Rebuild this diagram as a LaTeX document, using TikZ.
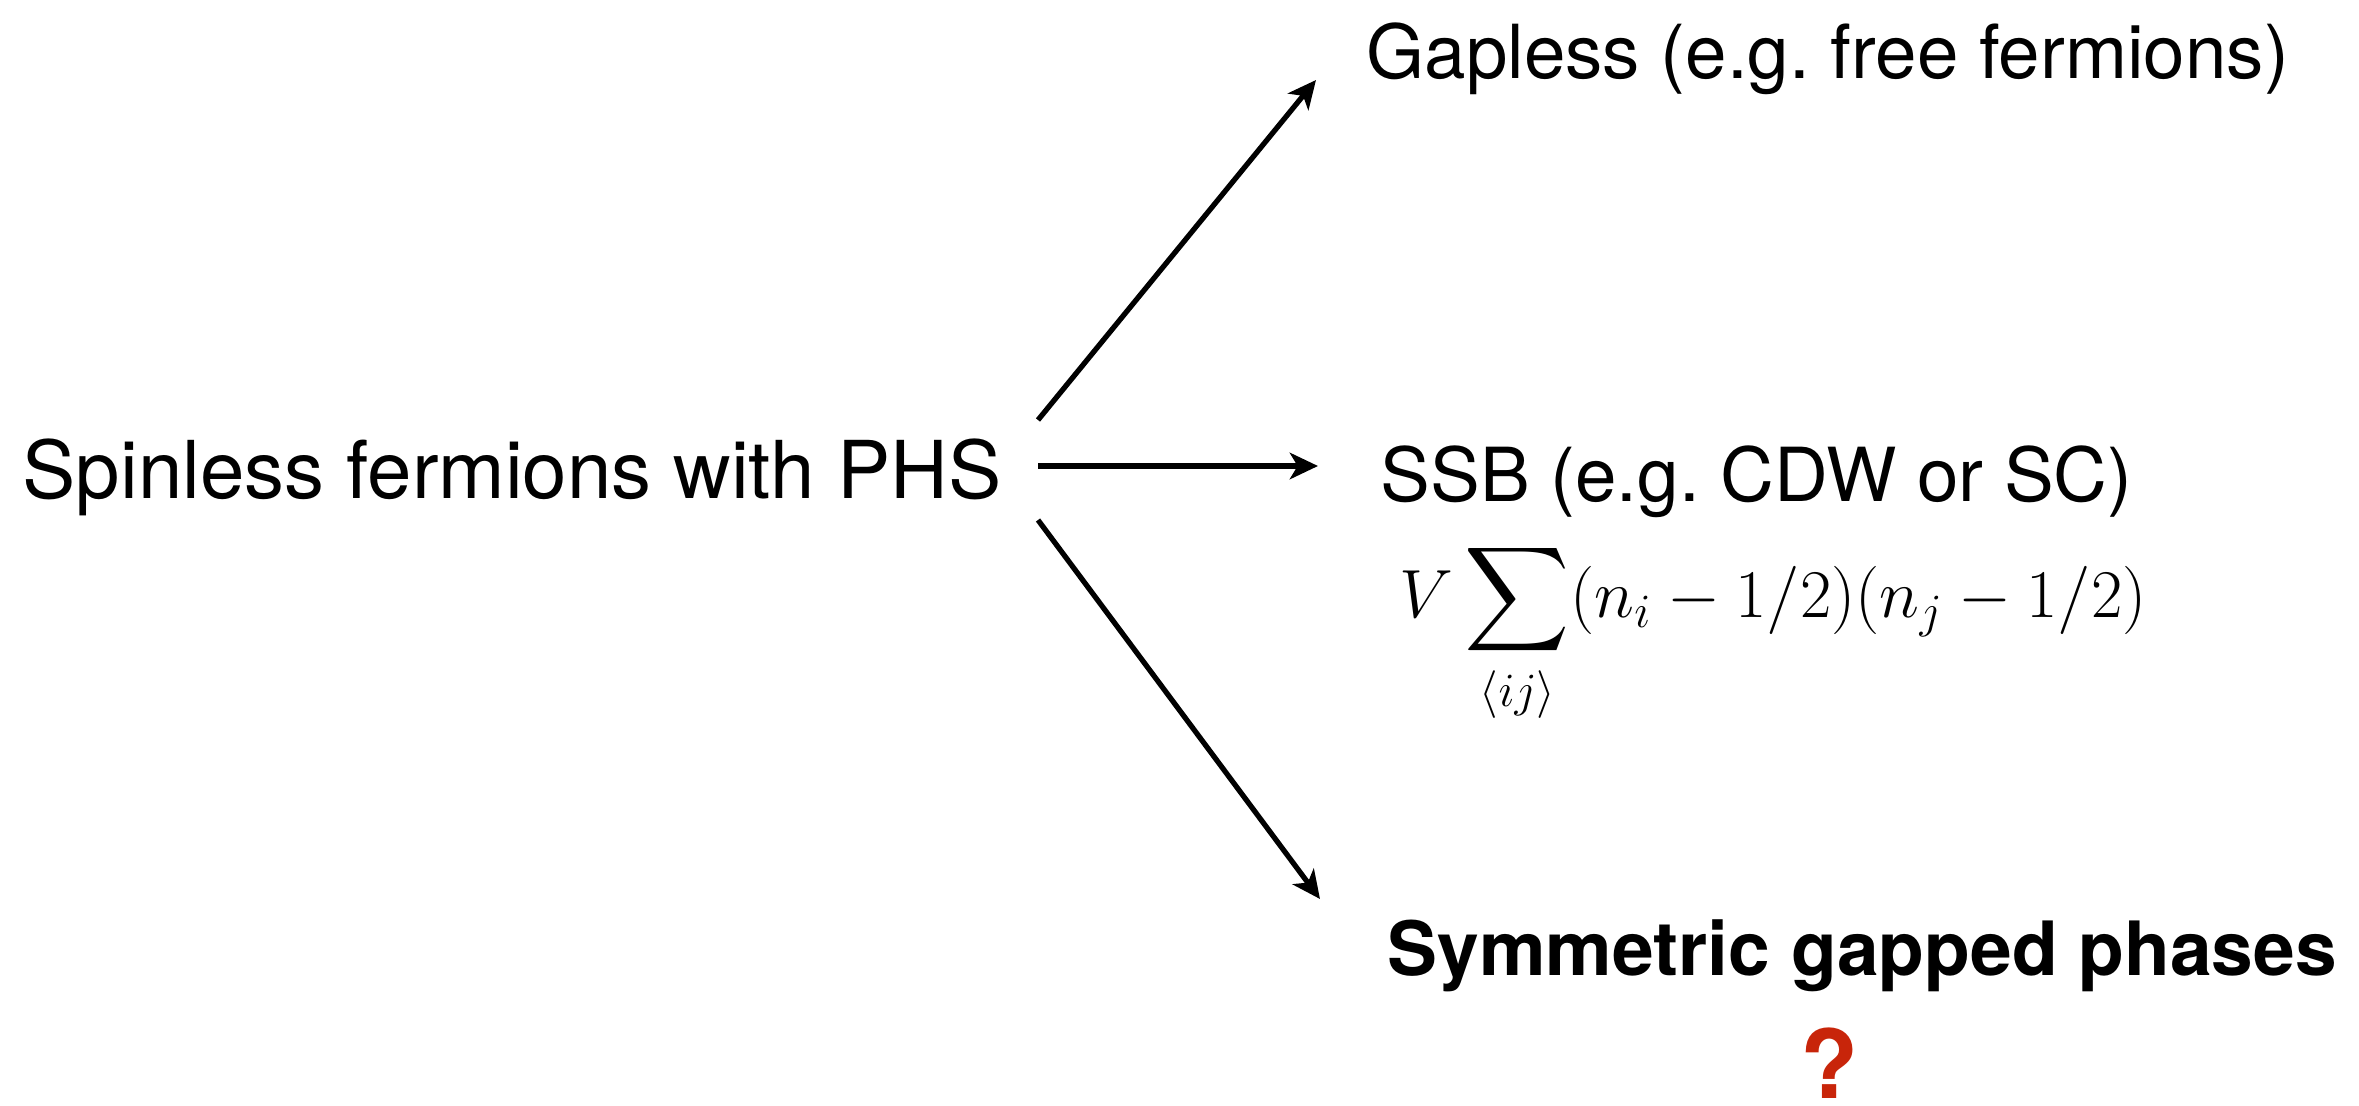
\RequirePackage{fix-cm}
\documentclass[tikz,border=0pt]{standalone}
\usepackage{amsmath}
\usepackage[no-math]{fontspec}
\setmainfont{TeX Gyre Heros}
\usetikzlibrary{arrows.meta}
\definecolor{qred}{HTML}{C8250A}
\frenchspacing
\begin{document}
\begin{tikzpicture}[x=0.01cm,y=-0.01cm,
  lbl/.style={inner sep=0pt,anchor=base west,font=\fontsize{21.2}{25}\selectfont},
  conn/.style={line width=1.5pt,-{Stealth[length=8pt,width=7.5pt,inset=2.2pt]}}]
\useasboundingbox (0,0) rectangle (2359,1106);
\node[lbl,font=\fontsize{22.7}{27}\selectfont] (src) at (22,498) {Spinless fermions with PHS};
\node[lbl] (gap) at (1366,78) {Gapless (e.g. free fermions)};
\node[lbl] (ssb) at (1380,501) {SSB (e.g. CDW or SC)};
\node[lbl,font=\fontsize{19.4}{24}\selectfont] (ham) at (1399,617)
  {$\displaystyle V\sum_{\langle ij\rangle}(n_i-1/2)(n_j-1/2)$};
\node[lbl,font=\fontsize{21.3}{25}\selectfont\bfseries] (sym) at (1387,975) {Symmetric gapped phases};
\node[inner sep=0pt,anchor=base,font=\fontsize{27}{30}\selectfont\bfseries,text=qred] (q) at (1829,1098) {?};
\coordinate (s1) at (1038,420);
\coordinate (s2) at (1038,466);
\coordinate (s3) at (1038,520);
\coordinate (e1) at (1316,80);
\coordinate (e2) at (1318,466);
\coordinate (e3) at (1320,899);
\draw[conn] (s1) -- (e1);
\draw[conn] (s2) -- (e2);
\draw[conn] (s3) -- (e3);
\end{tikzpicture}
\end{document}
